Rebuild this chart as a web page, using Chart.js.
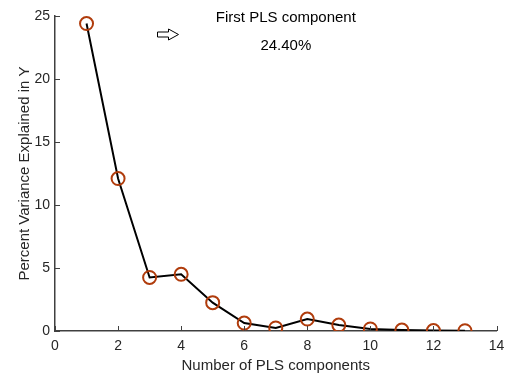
<!DOCTYPE html>
<html>
<head>
<meta charset="utf-8">
<script src="https://cdn.jsdelivr.net/npm/chart.js@4"></script>
<style>
  body { margin: 0; background: #fff; }
</style>
</head>
<body>
<canvas id="chart" width="505" height="375"></canvas>
<script>
// data
const components = [1, 2, 3, 4, 5, 6, 7, 8, 9, 10, 11, 12, 13];
const varianceY = [24.4, 12.1, 4.25, 4.5, 2.25, 0.63, 0.24, 0.95, 0.47, 0.16, 0.07, 0.03, 0.02];
const xTicks = [0, 2, 4, 6, 8, 10, 12, 14];
const yTicks = [0, 5, 10, 15, 20, 25];
const noteTitle = "First PLS component";
const noteValue = "24.40%";

const axisColor = "#404040";
const markerColor = "#b03c0c";
const font = "'Liberation Sans', Arial, sans-serif";

// tick marks pointing inward + annotation
const extras = {
  id: "extras",
  afterDraw(chart) {
    const ctx = chart.ctx;
    const xs = chart.scales.x, ys = chart.scales.y;
    const area = chart.chartArea;
    ctx.save();
    ctx.strokeStyle = axisColor;
    ctx.lineWidth = 1;
    xTicks.forEach(v => {
      const px = Math.round(xs.getPixelForValue(v)) + 0.5;
      ctx.beginPath();
      ctx.moveTo(px, area.bottom);
      ctx.lineTo(px, area.bottom - 5);
      ctx.stroke();
    });
    yTicks.forEach(v => {
      const py = Math.round(ys.getPixelForValue(v)) + 0.5;
      ctx.beginPath();
      ctx.moveTo(area.left, py);
      ctx.lineTo(area.left + 5, py);
      ctx.stroke();
    });

    // annotation text
    ctx.fillStyle = "#000";
    ctx.font = "15px " + font;
    ctx.textAlign = "center";
    ctx.textBaseline = "middle";
    const tx = xs.getPixelForValue(7.32);
    ctx.fillText(noteTitle, tx, ys.getPixelForValue(24.84));
    ctx.fillText(noteValue, tx, ys.getPixelForValue(22.62));

    // outline arrow
    const ax = Math.round(xs.getPixelForValue(3.23)) + 0.5;
    const ay = Math.round(ys.getPixelForValue(23.57)) + 0.5;
    ctx.strokeStyle = "#000";
    ctx.lineWidth = 1;
    ctx.beginPath();
    ctx.moveTo(ax, ay - 2.5);
    ctx.lineTo(ax + 11, ay - 2.5);
    ctx.lineTo(ax + 11, ay - 5.5);
    ctx.lineTo(ax + 21, ay);
    ctx.lineTo(ax + 11, ay + 5.5);
    ctx.lineTo(ax + 11, ay + 2.5);
    ctx.lineTo(ax, ay + 2.5);
    ctx.closePath();
    ctx.stroke();
    ctx.restore();
  }
};

new Chart(document.getElementById("chart"), {
  type: "scatter",
  data: {
    datasets: [{
      data: components.map((c, i) => ({ x: c, y: varianceY[i] })),
      showLine: true,
      borderColor: "#000",
      borderWidth: 2,
      pointStyle: "circle",
      pointRadius: 6.5,
      pointBorderWidth: 2,
      pointBorderColor: markerColor,
      pointBackgroundColor: "rgba(0,0,0,0)",
      tension: 0
    }]
  },
  options: {
    responsive: false,
    animation: false,
    layout: { padding: { top: 16, right: 8, left: 0, bottom: 0 } },
    plugins: { legend: { display: false }, tooltip: { enabled: false } },
    scales: {
      x: {
        type: "linear",
        min: 0, max: 14,
        afterBuildTicks: s => { s.ticks = xTicks.map(v => ({ value: v })); },
        afterFit: s => { s.height = 44; s.paddingLeft = 0; s.paddingRight = 0; },
        grid: { display: false, drawTicks: false },
        border: { display: true, color: axisColor, width: 1.5 },
        ticks: { color: "#262626", font: { size: 14, family: font }, padding: 7, maxRotation: 0 },
        title: { display: true, text: "Number of PLS components", color: "#262626", font: { size: 15, family: font }, padding: { top: 0, bottom: 0 } }
      },
      y: {
        min: 0, max: 25,
        afterBuildTicks: s => { s.ticks = yTicks.map(v => ({ value: v })); },
        afterFit: s => { s.width = 55; s.paddingTop = 0; s.paddingBottom = 0; },
        grid: { display: false, drawTicks: false },
        border: { display: true, color: axisColor, width: 1.5 },
        ticks: { color: "#262626", font: { size: 14, family: font }, padding: 5 },
        title: { display: true, text: "Percent Variance Explained in Y", color: "#262626", font: { size: 15, family: font }, padding: { top: 16, bottom: 0 } }
      }
    }
  },
  plugins: [extras]
});
</script>
</body>
</html>
